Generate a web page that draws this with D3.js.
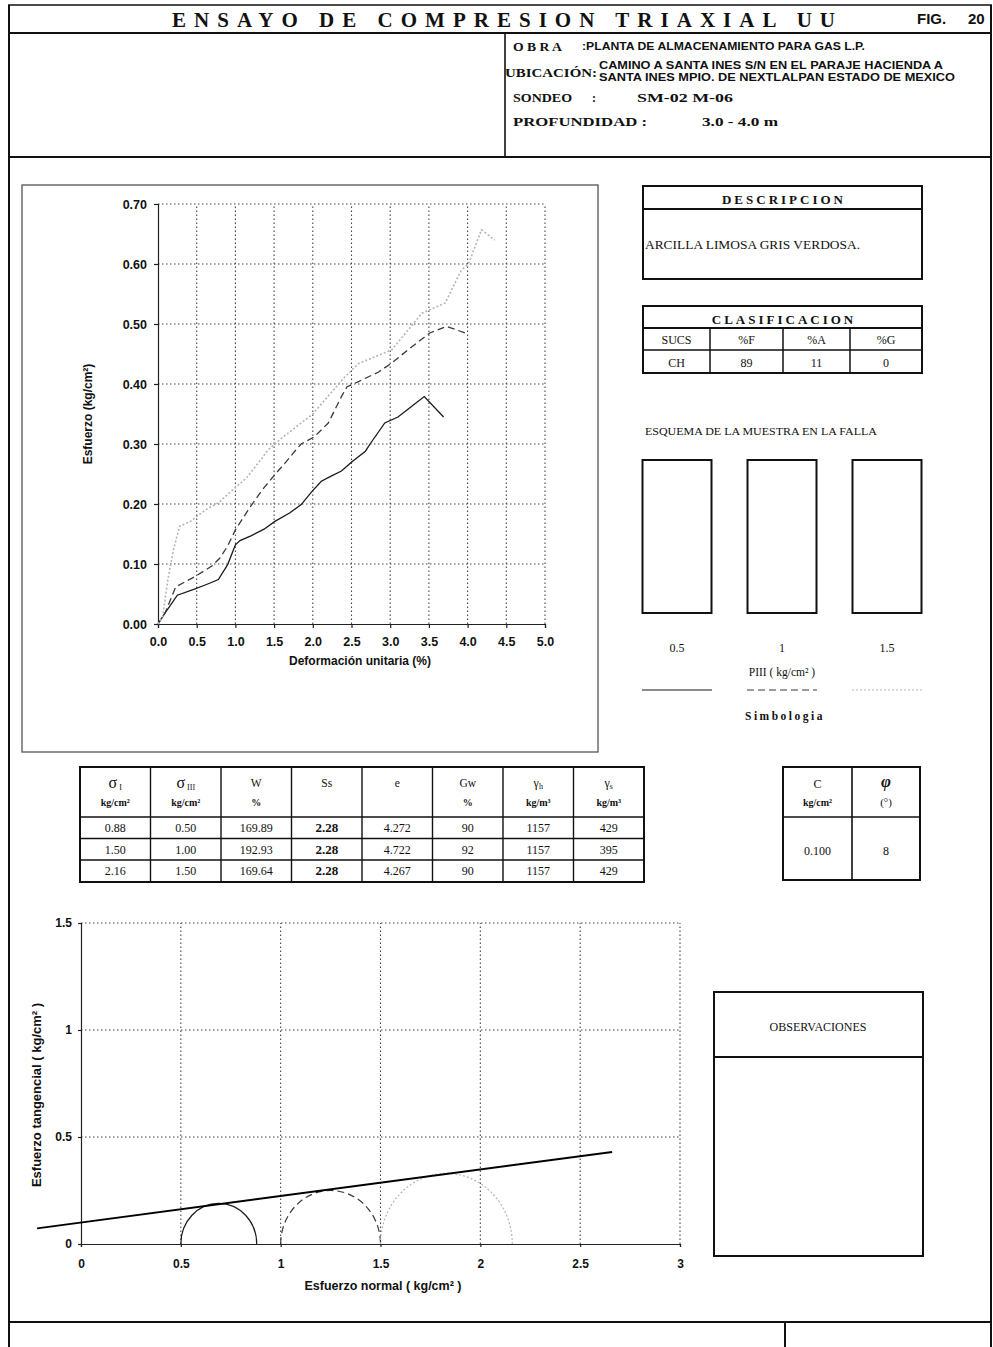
<!DOCTYPE html>
<html>
<head>
<meta charset="utf-8">
<script src="https://d3js.org/d3.v7.min.js"></script>
<style>
  body { margin: 0; background: #fff; }
  svg { display: block; }
  .serif { font-family: "Liberation Serif", "DejaVu Serif", serif; fill: #111; }
  .sans { font-family: "Liberation Sans", Arial, sans-serif; fill: #111; }
  .frame { stroke: #111; fill: none; }
  .grid line { stroke: #444; stroke-dasharray: 1.5,2.5; stroke-width: 1.1; }
  .axis path, .axis line { stroke: #222; stroke-width: 1.2; }
  .axis text { font-family: "Liberation Sans", Arial, sans-serif; font-weight: bold; fill: #111; }
</style>
</head>
<body>
<svg id="sheet" width="993" height="1347"></svg>
<script>
// ---- data read from the sheet ----
const strainTicks = [0, 0.5, 1, 1.5, 2, 2.5, 3, 3.5, 4, 4.5, 5];
const stressTicks = [0, 0.1, 0.2, 0.3, 0.4, 0.5, 0.6, 0.7];

// esfuerzo-deformacion, one curve per confining pressure
const curve05 = [[0,0],[0.09,0.018],[0.25,0.048],[0.47,0.058],[0.61,0.065],[0.78,0.074],[0.9,0.099],[1.0,0.132],[1.06,0.139],[1.2,0.147],[1.37,0.158],[1.51,0.171],[1.7,0.185],[1.85,0.199],[1.99,0.221],[2.11,0.238],[2.23,0.246],[2.37,0.255],[2.51,0.271],[2.68,0.288],[2.74,0.30],[2.93,0.335],[3.1,0.345],[3.25,0.36],[3.44,0.379],[3.69,0.345]];
const curve10 = [[0,0],[0.09,0.018],[0.23,0.062],[0.49,0.08],[0.7,0.097],[0.8,0.11],[0.9,0.13],[1.0,0.157],[1.18,0.193],[1.35,0.224],[1.51,0.249],[1.66,0.271],[1.78,0.29],[1.85,0.30],[2.02,0.312],[2.2,0.335],[2.37,0.379],[2.44,0.395],[2.59,0.404],[2.85,0.42],[3.02,0.435],[3.23,0.457],[3.51,0.485],[3.73,0.496],[3.97,0.485]];
const curve15 = [[0,0],[0.06,0.012],[0.13,0.076],[0.2,0.124],[0.28,0.163],[0.42,0.171],[0.61,0.19],[0.78,0.202],[0.97,0.224],[1.14,0.243],[1.33,0.274],[1.42,0.29],[1.6,0.31],[1.8,0.33],[2.0,0.35],[2.2,0.38],[2.4,0.41],[2.59,0.434],[3.02,0.457],[3.41,0.518],[3.71,0.535],[3.92,0.59],[4.01,0.60],[4.18,0.657],[4.35,0.64]];

const pressures = ["0.5", "1", "1.5"];
const sigma1 = [0.88, 1.50, 2.16];
const sigma3 = [0.50, 1.00, 1.50];
const normalTicks = [0, 0.5, 1, 1.5, 2, 2.5, 3];
const shearTicks = [0, 0.5, 1, 1.5];
const envelope = [[-0.22, 0.073], [2.66, 0.43]];

const tableRows = [
  ["0.88", "0.50", "169.89", "2.28", "4.272", "90", "1157", "429"],
  ["1.50", "1.00", "192.93", "2.28", "4.722", "92", "1157", "395"],
  ["2.16", "1.50", "169.64", "2.28", "4.267", "90", "1157", "429"]
];
const tableUnits = ["kg/cm²", "kg/cm²", "%", "", "", "%", "kg/m³", "kg/m³"];
const clasifHeads = ["SUCS", "%F", "%A", "%G"];
const clasifVals = ["CH", "89", "11", "0"];
const cohesion = "0.100";
const friction = "8";

const svg = d3.select("#sheet");
const lineStyles = [
  {stroke: "#1a1a1a", dash: null, w: 1.3},
  {stroke: "#3a3a3a", dash: "7,4", w: 1.3},
  {stroke: "#b5b5b5", dash: "2,2", w: 1.6}
];

// ---- page frame ----
const frame = svg.append("g").attr("class", "frame");
frame.append("line").attr("x1", 8).attr("x2", 992).attr("y1", 5).attr("y2", 5).attr("stroke-width", 1.5);
frame.append("line").attr("x1", 9).attr("x2", 9).attr("y1", 5).attr("y2", 1347).attr("stroke-width", 2);
frame.append("line").attr("x1", 991).attr("x2", 991).attr("y1", 5).attr("y2", 1347).attr("stroke-width", 2);
frame.append("line").attr("x1", 9).attr("x2", 991).attr("y1", 33).attr("y2", 33).attr("stroke-width", 2);
frame.append("line").attr("x1", 9).attr("x2", 991).attr("y1", 157).attr("y2", 157).attr("stroke-width", 2);
frame.append("line").attr("x1", 505).attr("x2", 505).attr("y1", 33).attr("y2", 157).attr("stroke-width", 1.6);
frame.append("line").attr("x1", 9).attr("x2", 991).attr("y1", 1322).attr("y2", 1322).attr("stroke-width", 2);
frame.append("line").attr("x1", 785).attr("x2", 785).attr("y1", 1322).attr("y2", 1347).attr("stroke-width", 2);

// ---- header ----
svg.append("text").attr("class", "serif").attr("x", 172).attr("y", 27)
  .attr("textLength", 663).attr("lengthAdjust", "spacing")
  .style("font-size", "21px").style("font-weight", "bold")
  .text("ENSAYO  DE  COMPRESION  TRIAXIAL  UU");
svg.append("text").attr("class", "sans").attr("x", 917).attr("y", 24)
  .style("font-size", "15px").style("font-weight", "bold").text("FIG.");
svg.append("text").attr("class", "sans").attr("x", 968).attr("y", 24)
  .style("font-size", "15px").style("font-weight", "bold").text("20");

const info = svg.append("g");
const hdr = (x, y, len, size, txt, cls, weight) => {
  info.append("text").attr("class", cls).attr("x", x).attr("y", y)
    .attr("textLength", len).attr("lengthAdjust", "spacingAndGlyphs")
    .style("font-size", size + "px").style("font-weight", weight).text(txt);
};
hdr(513, 51, 49, 12, "O B R A", "serif", "bold");
hdr(582, 50, 283, 11, ":PLANTA DE ALMACENAMIENTO PARA GAS L.P.", "sans", "bold");
hdr(505, 77, 92, 13.5, "UBICACIÓN:", "serif", "bold");
hdr(599, 69, 344, 11, "CAMINO A SANTA INES S/N EN EL PARAJE HACIENDA A", "sans", "bold");
hdr(599, 81, 356, 11, "SANTA INES MPIO. DE NEXTLALPAN ESTADO DE MEXICO", "sans", "bold");
hdr(513, 102, 59, 13, "SONDEO", "serif", "bold");
hdr(592, 102, 4, 13, ":", "serif", "bold");
hdr(637, 102, 96, 13, "SM-02  M-06", "serif", "bold");
hdr(513, 126, 134, 13, "PROFUNDIDAD :", "serif", "bold");
hdr(702, 126, 76, 13, "3.0 - 4.0 m", "serif", "bold");

// ---- stress-strain chart ----
svg.append("rect").attr("x", 22).attr("y", 185).attr("width", 576).attr("height", 567)
  .attr("fill", "none").attr("stroke", "#555").attr("stroke-width", 1.3);

const xS = d3.scaleLinear().domain([0, 5]).range([158, 545]);
const yS = d3.scaleLinear().domain([0, 0.7]).range([624, 204]);

const g1 = svg.append("g").attr("class", "grid");
g1.selectAll(".vx").data(strainTicks.slice(1)).join("line")
  .attr("x1", d => xS(d)).attr("x2", d => xS(d)).attr("y1", yS(0)).attr("y2", yS(0.7));
g1.selectAll(".hy").data(stressTicks.slice(1)).join("line")
  .attr("x1", xS(0)).attr("x2", xS(5)).attr("y1", d => yS(d)).attr("y2", d => yS(d));

svg.append("g").attr("class", "axis").attr("transform", `translate(${xS(0)},0)`)
  .call(d3.axisLeft(yS).tickValues(stressTicks).tickFormat(d3.format(".2f")).tickSize(4).tickPadding(7))
  .selectAll("text").style("font-size", "12.5px");
svg.append("g").attr("class", "axis").attr("transform", `translate(0,${yS(0)})`)
  .call(d3.axisBottom(xS).tickValues(strainTicks).tickFormat(d3.format(".1f")).tickSize(4).tickPadding(9))
  .selectAll("text").style("font-size", "12.5px");

const curveLine = d3.line().x(d => xS(d[0])).y(d => yS(d[1]));
[curve05, curve10, curve15].forEach((c, i) => {
  svg.append("path").datum(c).attr("d", curveLine).attr("fill", "none")
    .attr("stroke", lineStyles[i].stroke).attr("stroke-width", lineStyles[i].w)
    .attr("stroke-dasharray", lineStyles[i].dash);
});

svg.append("text").attr("class", "sans").attr("x", 360).attr("y", 665)
  .attr("text-anchor", "middle").style("font-size", "12px").style("font-weight", "bold")
  .text("Deformación unitaria (%)");
svg.append("text").attr("class", "sans").attr("transform", "translate(88,414) rotate(-90)")
  .attr("text-anchor", "middle").attr("dy", "0.35em").style("font-size", "12px").style("font-weight", "bold")
  .text("Esfuerzo (kg/cm²)");

// ---- descripcion ----
const box = svg.append("g").attr("fill", "none").attr("stroke", "#111").attr("stroke-width", 2);
box.append("rect").attr("x", 643).attr("y", 186).attr("width", 279).attr("height", 93);
box.append("line").attr("x1", 643).attr("x2", 922).attr("y1", 209).attr("y2", 209);
svg.append("text").attr("class", "serif").attr("x", 784).attr("y", 204).attr("text-anchor", "middle")
  .style("font-size", "13px").style("font-weight", "bold").style("letter-spacing", "3px").text("DESCRIPCION");
svg.append("text").attr("class", "serif").attr("x", 645).attr("y", 249)
  .attr("textLength", 215).attr("lengthAdjust", "spacingAndGlyphs")
  .style("font-size", "12px").text("ARCILLA LIMOSA GRIS VERDOSA.");

// ---- clasificacion ----
const colX = [643, 710, 783, 850, 922];
box.append("rect").attr("x", 643).attr("y", 306).attr("width", 279).attr("height", 67);
box.append("line").attr("x1", 643).attr("x2", 922).attr("y1", 328).attr("y2", 328);
box.append("line").attr("x1", 643).attr("x2", 922).attr("y1", 350).attr("y2", 350).attr("stroke-width", 1.5);
box.selectAll(".cv").data(colX.slice(1, 4)).join("line")
  .attr("x1", d => d).attr("x2", d => d).attr("y1", 328).attr("y2", 373).attr("stroke-width", 1.5);
svg.append("text").attr("class", "serif").attr("x", 784).attr("y", 324).attr("text-anchor", "middle")
  .style("font-size", "13px").style("font-weight", "bold").style("letter-spacing", "3px").text("CLASIFICACION");
svg.selectAll(".ch").data(clasifHeads).join("text").attr("class", "serif")
  .attr("x", (d, i) => (colX[i] + colX[i + 1]) / 2).attr("y", 344).attr("text-anchor", "middle")
  .style("font-size", "12px").text(d => d);
svg.selectAll(".cval").data(clasifVals).join("text").attr("class", "serif")
  .attr("x", (d, i) => (colX[i] + colX[i + 1]) / 2).attr("y", 367).attr("text-anchor", "middle")
  .style("font-size", "12px").text(d => d);

// ---- esquema de la muestra ----
svg.append("text").attr("class", "serif").attr("x", 645).attr("y", 435)
  .attr("textLength", 232).attr("lengthAdjust", "spacingAndGlyphs")
  .style("font-size", "11px").text("ESQUEMA DE LA MUESTRA EN LA FALLA");
const pX = d3.scalePoint().domain(pressures).range([677, 887]);
box.selectAll(".spec").data(pressures).join("rect")
  .attr("x", d => pX(d) - 34.5).attr("y", 460).attr("width", 69).attr("height", 153);
svg.selectAll(".plab").data(pressures).join("text").attr("class", "serif")
  .attr("x", d => pX(d)).attr("y", 652).attr("text-anchor", "middle").style("font-size", "12px").text(d => d);
svg.append("text").attr("class", "serif").attr("x", 782).attr("y", 676).attr("text-anchor", "middle")
  .style("font-size", "11.5px").text("PIII ( kg/cm² )");
svg.selectAll(".leg").data(pressures).join("line")
  .attr("x1", d => pX(d) - 35).attr("x2", d => pX(d) + 35).attr("y1", 690).attr("y2", 690)
  .attr("stroke", (d, i) => lineStyles[i].stroke).attr("stroke-width", 1.2)
  .attr("stroke-dasharray", (d, i) => lineStyles[i].dash);
svg.append("text").attr("class", "serif").attr("x", 785).attr("y", 720).attr("text-anchor", "middle")
  .style("font-size", "11.5px").style("font-weight", "bold").style("letter-spacing", "2.5px").text("Simbologia");

// ---- data table ----
const tX = d3.range(9).map(i => 80 + i * 70.5);
const tY = [767, 817, 838.5, 860, 882];
const tab = svg.append("g").attr("fill", "none").attr("stroke", "#111");
tab.append("rect").attr("x", tX[0]).attr("y", tY[0]).attr("width", tX[8] - tX[0]).attr("height", tY[4] - tY[0]).attr("stroke-width", 2);
tab.selectAll(".tv").data(tX.slice(1, 8)).join("line")
  .attr("x1", d => d).attr("x2", d => d).attr("y1", tY[0]).attr("y2", tY[4]).attr("stroke-width", 1.4);
tab.selectAll(".th").data(tY.slice(1, 4)).join("line")
  .attr("x1", tX[0]).attr("x2", tX[8]).attr("y1", d => d).attr("y2", d => d).attr("stroke-width", 1.4);

const cx = i => (tX[i] + tX[i + 1]) / 2;
const sig = (i, sub) => {
  const t = svg.append("text").attr("class", "serif").attr("x", cx(i)).attr("y", 788).attr("text-anchor", "middle");
  t.append("tspan").style("font-size", "16px").text("σ");
  t.append("tspan").attr("dx", 2).attr("dy", 2).style("font-size", "8px").text(sub);
};
sig(0, "I");
sig(1, "III");
[["W", 2], ["Ss", 3], ["e", 4], ["Gw", 5]].forEach(([s, i]) => {
  svg.append("text").attr("class", "serif").attr("x", cx(i)).attr("y", 787).attr("text-anchor", "middle")
    .style("font-size", "11.5px").text(s);
});
[["h", 6], ["s", 7]].forEach(([s, i]) => {
  const t = svg.append("text").attr("class", "serif").attr("x", cx(i)).attr("y", 787).attr("text-anchor", "middle");
  t.append("tspan").style("font-size", "12px").text("γ");
  t.append("tspan").attr("dy", 2).style("font-size", "8px").text(s);
});
svg.selectAll(".tu").data(tableUnits).join("text").attr("class", "serif")
  .attr("x", (d, i) => cx(i)).attr("y", 806).attr("text-anchor", "middle")
  .style("font-size", "10px").style("font-weight", "bold").text(d => d);
tableRows.forEach((row, r) => {
  svg.selectAll(".tr" + r).data(row).join("text").attr("class", "serif")
    .attr("x", (d, i) => cx(i)).attr("y", tY[r + 1] + 15).attr("text-anchor", "middle")
    .style("font-size", (d, i) => i === 3 ? "13px" : "12px")
    .style("font-weight", (d, i) => i === 3 ? "bold" : "normal").text(d => d);
});

// ---- c / phi ----
tab.append("rect").attr("x", 783).attr("y", 767).attr("width", 137).attr("height", 113).attr("stroke-width", 2);
tab.append("line").attr("x1", 852).attr("x2", 852).attr("y1", 767).attr("y2", 880).attr("stroke-width", 1.6);
tab.append("line").attr("x1", 783).attr("x2", 920).attr("y1", 817).attr("y2", 817).attr("stroke-width", 1.6);
svg.append("text").attr("class", "serif").attr("x", 817.5).attr("y", 788).attr("text-anchor", "middle").style("font-size", "12px").text("C");
svg.append("text").attr("class", "serif").attr("x", 817.5).attr("y", 806).attr("text-anchor", "middle")
  .style("font-size", "10px").style("font-weight", "bold").text("kg/cm²");
svg.append("text").attr("class", "serif").attr("x", 886).attr("y", 787).attr("text-anchor", "middle")
  .style("font-size", "17px").style("font-weight", "bold").style("font-style", "italic").text("φ");
svg.append("text").attr("class", "serif").attr("x", 886).attr("y", 806).attr("text-anchor", "middle").style("font-size", "11px").text("(°)");
svg.append("text").attr("class", "serif").attr("x", 817.5).attr("y", 855).attr("text-anchor", "middle").style("font-size", "12px").text(cohesion);
svg.append("text").attr("class", "serif").attr("x", 886).attr("y", 855).attr("text-anchor", "middle").style("font-size", "12px").text(friction);

// ---- Mohr circles ----
const xM = d3.scaleLinear().domain([0, 3]).range([81, 680]);
const yM = d3.scaleLinear().domain([0, 1.5]).range([1244, 923]);

const g2 = svg.append("g").attr("class", "grid");
g2.selectAll(".mv").data(normalTicks.slice(1)).join("line")
  .attr("x1", d => xM(d)).attr("x2", d => xM(d)).attr("y1", yM(0)).attr("y2", yM(1.5));
g2.selectAll(".mh").data(shearTicks.slice(1)).join("line")
  .attr("x1", xM(0)).attr("x2", xM(3)).attr("y1", d => yM(d)).attr("y2", d => yM(d));

svg.append("g").attr("class", "axis").attr("transform", `translate(${xM(0)},0)`)
  .call(d3.axisLeft(yM).tickValues(shearTicks).tickFormat(d3.format("~g")).tickSize(3).tickPadding(6))
  .selectAll("text").style("font-size", "12px");
svg.append("g").attr("class", "axis").attr("transform", `translate(0,${yM(0)})`)
  .call(d3.axisBottom(xM).tickValues(normalTicks).tickFormat(d3.format("~g")).tickSize(3).tickPadding(12))
  .selectAll("text").style("font-size", "12px");

sigma3.forEach((s3, i) => {
  const s1 = sigma1[i];
  const r = (s1 - s3) / 2;
  const rx = xM(r) - xM(0), ry = yM(0) - yM(r);
  svg.append("path")
    .attr("d", `M${xM(s3)},${yM(0)} A${rx},${ry} 0 0 1 ${xM(s1)},${yM(0)}`)
    .attr("fill", "none").attr("stroke", lineStyles[i].stroke).attr("stroke-width", 1.2)
    .attr("stroke-dasharray", lineStyles[i].dash);
});

svg.append("path").datum(envelope)
  .attr("d", d3.line().x(d => xM(d[0])).y(d => yM(d[1])))
  .attr("stroke", "#000").attr("stroke-width", 2).attr("fill", "none");

svg.append("text").attr("class", "sans").attr("x", 383).attr("y", 1290).attr("text-anchor", "middle")
  .style("font-size", "12.5px").style("font-weight", "bold").text("Esfuerzo normal  ( kg/cm² )");
svg.append("text").attr("class", "sans").attr("transform", "translate(36,1095) rotate(-90)")
  .attr("text-anchor", "middle").attr("dy", "0.35em")
  .style("font-size", "13px").style("font-weight", "bold")
  .text("Esfuerzo tangencial  ( kg/cm² )");

// ---- observaciones ----
box.append("rect").attr("x", 714).attr("y", 992).attr("width", 209).attr("height", 264);
box.append("line").attr("x1", 714).attr("x2", 923).attr("y1", 1057).attr("y2", 1057);
svg.append("text").attr("class", "serif").attr("x", 818).attr("y", 1031).attr("text-anchor", "middle")
  .style("font-size", "12px").text("OBSERVACIONES");
</script>
</body>
</html>
